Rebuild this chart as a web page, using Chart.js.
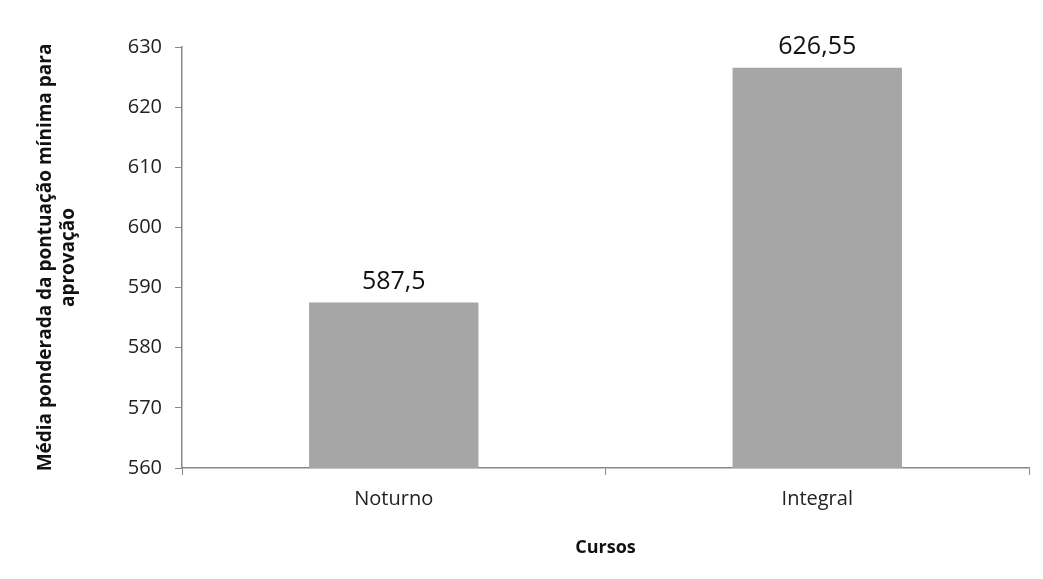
<!DOCTYPE html>
<html lang="pt">
<head>
    <meta charset="UTF-8">
    <title>Média ponderada por curso</title>
    <script src="https://cdn.jsdelivr.net/npm/chart.js"></script>
    <style>
        html, body { margin: 0; padding: 0; background: #fff; }
        #wrap { width: 1043px; height: 579px; position: relative; }
    </style>
</head>
<body>
    <div id="wrap"><canvas id="myChart"></canvas></div>
    <script>
        const cursos = ['Noturno', 'Integral'];
        const medias = [587.5, 626.55];
        const rotulos = ['587,5', '626,55'];
        const yMin = 560, yMax = 630, yStep = 10;

        // writes the value above each bar
        const valueLabels = {
            id: 'valueLabels',
            afterDatasetsDraw(chart) {
                const ctx = chart.ctx;
                const meta = chart.getDatasetMeta(0);
                ctx.save();
                ctx.font = '25px "Open Sans", sans-serif';
                ctx.fillStyle = '#111';
                ctx.textAlign = 'center';
                ctx.textBaseline = 'bottom';
                meta.data.forEach((bar, i) => {
                    ctx.fillText(rotulos[i], bar.x, bar.y - 8);
                });
                ctx.restore();
            }
        };

        const ctx = document.getElementById('myChart').getContext('2d');
        new Chart(ctx, {
            type: 'bar',
            data: {
                labels: cursos,
                datasets: [{
                    data: medias,
                    backgroundColor: '#a6a6a6',
                    categoryPercentage: 0.8,
                    barPercentage: 0.5
                }]
            },
            options: {
                responsive: true,
                maintainAspectRatio: false,
                animation: false,
                layout: { padding: { top: 47, right: 14, bottom: 20, left: 34 } },
                plugins: {
                    legend: { display: false },
                    tooltip: { enabled: false }
                },
                scales: {
                    x: {
                        afterFit(scale) { scale.height = 91; },
                        grid: {
                            display: true,
                            drawOnChartArea: false,
                            offset: true,
                            tickLength: 7,
                            color: '#888'
                        },
                        border: { display: true, color: '#888', width: 1.5 },
                        ticks: {
                            color: '#222',
                            padding: 12,
                            font: { family: '"Open Sans", sans-serif', size: 20 }
                        },
                        title: {
                            display: true,
                            text: 'Cursos',
                            color: '#111',
                            padding: { top: 0, bottom: 0 },
                            font: { family: '"Open Sans", sans-serif', size: 18, weight: 'bold' }
                        }
                    },
                    y: {
                        min: yMin,
                        max: yMax,
                        afterFit(scale) { scale.width = 148; },
                        grid: {
                            display: true,
                            drawOnChartArea: false,
                            tickLength: 7,
                            color: '#888'
                        },
                        border: { display: true, color: '#888', width: 1.5 },
                        ticks: {
                            stepSize: yStep,
                            color: '#222',
                            padding: 13,
                            font: { family: '"Open Sans", sans-serif', size: 20 }
                        },
                        title: {
                            display: true,
                            text: ['Média ponderada da pontuação mínima para', 'aprovação'],
                            color: '#111',
                            padding: { top: 0, bottom: 0 },
                            font: { family: '"Open Sans", sans-serif', size: 19, weight: 'bold', lineHeight: 1.2 }
                        }
                    }
                }
            },
            plugins: [valueLabels]
        });
    </script>
</body>
</html>
